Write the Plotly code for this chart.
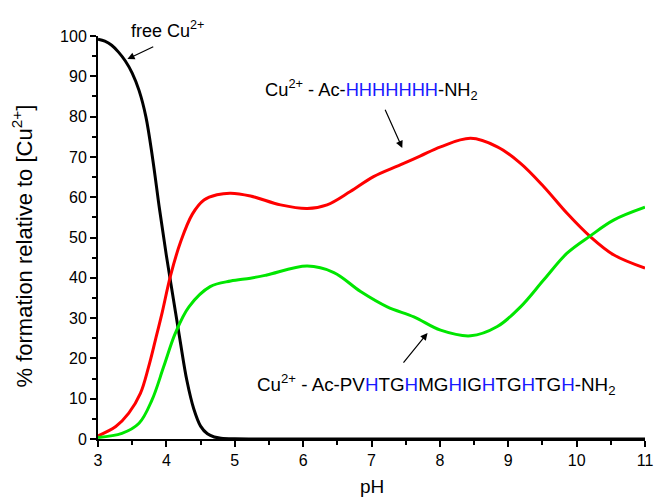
import plotly.graph_objects as go

# ---- data ----
ph_free = [3.0, 3.1, 3.2, 3.3, 3.4, 3.5, 3.6, 3.7, 3.8, 3.9, 4.0, 4.1, 4.2, 4.3, 4.4, 4.5, 4.6, 4.7, 4.8, 5.0, 5.5, 6.0, 7.0, 8.0, 9.0, 10.0, 11.0]
free_cu = [99.2, 98.7, 97.7, 96.0, 93.8, 90.8, 86.5, 80.0, 69.5, 57.0, 45.5, 35.0, 24.5, 14.5, 7.5, 3.2, 1.3, 0.5, 0.2, 0.05, 0.0, 0.0, 0.0, 0.0, 0.0, 0.0, 0.0]

ph_h7 = [3.0, 3.26, 3.45, 3.62, 3.74, 3.84, 3.94, 4.06, 4.21, 4.38, 4.55, 4.74, 4.94, 5.23, 5.67, 6.06, 6.35, 6.69, 7.03, 7.42, 7.71, 8.01, 8.45, 8.84, 9.18, 9.52, 9.86, 10.2, 10.54, 11.0]
cu_h7 = [0.8, 3.1, 6.4, 11.3, 17.9, 24.6, 31.5, 40.5, 49.0, 55.8, 59.3, 60.6, 61.0, 60.3, 58.1, 57.2, 58.1, 61.4, 65.1, 68.0, 70.2, 72.5, 74.6, 72.5, 68.4, 62.6, 56.0, 50.2, 45.7, 42.4]

ph_pv = [3.0, 3.35, 3.6, 3.79, 3.96, 4.13, 4.33, 4.64, 4.94, 5.23, 5.47, 6.06, 6.45, 6.84, 7.23, 7.62, 8.01, 8.45, 8.84, 9.18, 9.52, 9.86, 10.2, 10.54, 11.0]
cu_pv = [0.4, 1.4, 3.9, 9.7, 17.9, 26.2, 32.8, 37.8, 39.2, 39.9, 40.7, 42.9, 41.3, 36.6, 32.8, 30.3, 27.0, 25.6, 27.9, 32.8, 39.5, 46.1, 50.4, 54.3, 57.5]

x_ticks = [3, 4, 5, 6, 7, 8, 9, 10, 11]
y_ticks = [0, 10, 20, 30, 40, 50, 60, 70, 80, 90, 100]

fig = go.Figure()
fig.add_trace(go.Scatter(x=ph_free, y=free_cu, mode="lines",
                         line=dict(color="black", width=3, shape="spline", smoothing=1.0)))
fig.add_trace(go.Scatter(x=ph_h7, y=cu_h7, mode="lines",
                         line=dict(color="#ff0000", width=3, shape="spline", smoothing=1.0)))
fig.add_trace(go.Scatter(x=ph_pv, y=cu_pv, mode="lines",
                         line=dict(color="#00e600", width=3, shape="spline", smoothing=1.0)))

BL = "#1a1aff"
B = "<span style='color:" + BL + "'>H</span>"
txt_h7 = "Cu<sup>2+</sup> - Ac-<span style='color:" + BL + "'>HHHHHHH</span>-NH<sub>2</sub>"
txt_pv = ("Cu<sup>2+</sup> - Ac-PV" + B + "TG" + B + "MG" + B + "IG" + B + "TG" + B + "TG" + B + "-NH<sub>2</sub>")

FAM = "Liberation Sans, Arial"
annotations = [
    dict(x=3.46, y=0.982, xref="x", yref="paper", text="free Cu<sup>2+</sup>", showarrow=False,
         xanchor="left", yanchor="bottom", font=dict(family=FAM, size=18, color="black")),
    dict(x=5.42, y=86.8, xref="x", yref="y", text=txt_h7, showarrow=False,
         xanchor="left", yanchor="middle", font=dict(family=FAM, size=18.3, color="black")),
    dict(x=5.30, y=13.5, xref="x", yref="y", text=txt_pv, showarrow=False,
         xanchor="left", yanchor="middle", font=dict(family=FAM, size=18.8, color="black")),
    # axis titles
    dict(x=7.0, y=-0.119, xref="x", yref="paper", text="pH", showarrow=False,
         xanchor="center", yanchor="middle", font=dict(family=FAM, size=19, color="black")),
    dict(x=-0.139, y=0.48, xref="paper", yref="paper", text="% formation relative to [Cu<sup>2+</sup>]",
         showarrow=False, textangle=-90, xanchor="center", yanchor="middle",
         font=dict(family=FAM, size=22, color="black")),
    # arrows
    dict(x=3.43, y=94.3, ax=3.83, ay=97.5, xref="x", yref="y", axref="x", ayref="y", text="",
         showarrow=True, arrowhead=2, arrowsize=1.2, arrowwidth=1.2, arrowcolor="black"),
    dict(x=7.45, y=72.2, ax=7.19, ay=82.1, xref="x", yref="y", axref="x", ayref="y", text="",
         showarrow=True, arrowhead=2, arrowsize=1.2, arrowwidth=1.2, arrowcolor="black"),
    dict(x=7.82, y=26.3, ax=7.45, ay=18.6, xref="x", yref="y", axref="x", ayref="y", text="",
         showarrow=True, arrowhead=2, arrowsize=1.2, arrowwidth=1.2, arrowcolor="black"),
]

tfont = dict(family=FAM, size=16, color="black")
fig.update_layout(
    width=654, height=499,
    margin=dict(l=98, r=9, t=36, b=60),
    paper_bgcolor="white", plot_bgcolor="white",
    showlegend=False,
    annotations=annotations,
    xaxis=dict(range=[3, 11], tickvals=x_ticks, ticks="outside", ticklen=6, tickwidth=1.5,
               tickcolor="black", automargin=False,
               showline=True, linecolor="black", linewidth=2, showgrid=False, zeroline=False,
               tickfont=tfont,
               minor=dict(dtick=0.5, ticks="outside", ticklen=4, tickwidth=1.5, tickcolor="black", showgrid=False)),
    yaxis=dict(range=[0, 100], tickvals=y_ticks, ticks="outside", ticklen=6, tickwidth=1.5,
               tickcolor="black", automargin=False,
               showline=True, linecolor="black", linewidth=2, showgrid=False, zeroline=False,
               tickfont=tfont,
               minor=dict(dtick=5, ticks="outside", ticklen=4, tickwidth=1.5, tickcolor="black", showgrid=False)),
)

fig.write_html("out.html")
